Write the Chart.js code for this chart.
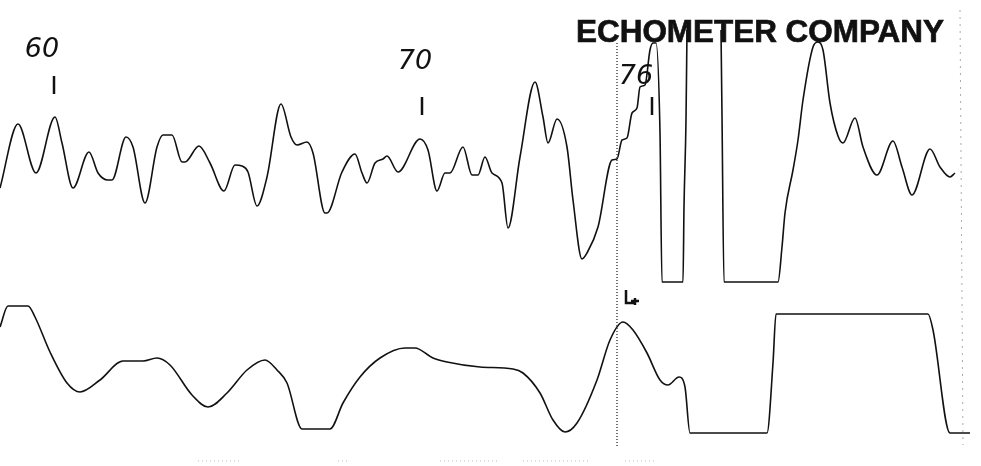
<!DOCTYPE html>
<html>
<head>
<meta charset="utf-8">
<script src="https://cdn.jsdelivr.net/npm/chart.js@4/dist/chart.umd.min.js"></script>
<style>
  body { margin: 0; background: #fff; }
  canvas { display: block; }
</style>
</head>
<body>
<canvas id="echoChart" width="981" height="466"></canvas>
<script>
// upper trace (acoustic echo), sample position vs deflection
const topX = [0, 18, 36, 55, 62, 73, 89, 98, 108, 112, 126, 133, 145, 157, 163, 172, 182, 185, 199, 210, 224, 235, 242, 248, 257, 267, 281, 291, 297, 307, 313, 325,
  327, 342, 355, 362, 367, 375, 383, 387, 398, 420, 428, 437, 445, 450, 463, 472, 478, 485, 492, 502, 508, 520, 535, 543, 548, 557, 567, 573, 582, 587, 598,
  612, 617, 622, 627, 632, 637, 640, 645, 650, 653, 656, 660, 662, 683, 684, 686, 687, 704, 721, 722, 724, 778, 782, 785, 793, 798, 803, 813, 818, 823, 830, 838, 843,
  855, 863, 877, 893, 902, 912, 930, 940, 950, 955];
const topY = [188, 124, 173, 117, 143, 188, 152, 173, 180, 180, 137, 147, 203, 147, 135, 135, 162, 162, 146, 163, 191, 165, 166, 172, 206, 177, 104, 137, 145, 142, 153, 213,
  213, 172, 154, 173, 183, 163, 159, 156, 172, 139, 150, 191, 173, 173, 147, 175, 175, 157, 173, 183, 228, 157, 82, 117, 143, 119, 147, 200, 259, 253, 227,
  160, 159, 140, 138, 113, 108, 87, 85, 50, 43, 43, 133, 282, 282, 207, 120, 30, null, 30, 115, 282, 282, 247, 213, 170, 140, 100, 47, 42, 50, 103, 136, 143,
  118, 147, 175, 141, 167, 195, 149, 167, 177, 173];

// lower trace (filtered signal)
const lowX = [0, 8, 28, 35, 50, 67, 80, 100, 123, 143, 157, 170, 192, 208, 227, 247, 265, 277, 287, 302, 330, 343, 360, 380, 405, 415, 433, 447, 480,
  513, 523, 540, 553, 565, 577, 597, 610, 623, 633, 647, 660, 668, 679, 685, 690, 767, 773, 776, 928, 933, 950, 970];
const lowY = [327, 306, 306, 317, 352, 383, 392, 380, 361, 361, 358, 365, 395, 407, 393, 370, 360, 370, 383, 429, 429, 403, 377, 358, 348, 348, 358, 362, 367,
  369, 373, 393, 420, 432, 423, 380, 340, 322, 330, 353, 380, 385, 377, 387, 433, 433, 363, 314, 314, 330, 433, 433];

// handwritten depth marks: label, x position, label row, tick x, tick top row
const markLabels = ['60', '70', '76'];
const markX = [42, 415, 636];
const markLabelY = [57, 69, 84];
const markTickX = [54, 422, 652];
const markTickY = [76, 97, 97];

const cursorX = 617;
// scan specks along the bottom edge: [from, to]
const specks = [[198, 240], [338, 350], [440, 500], [523, 590], [625, 655]];

const toPts = (xs, ys) => xs.map((x, i) => ({ x: x, y: ys[i] }));

const overlay = {
  id: 'overlay',
  afterDatasetsDraw(chart) {
    const ctx = chart.ctx, sx = chart.scales.x, sy = chart.scales.y;
    const px = v => sx.getPixelForValue(v), py = v => sy.getPixelForValue(v);
    ctx.save();
    // cursor (dotted)
    ctx.strokeStyle = '#444';
    ctx.lineWidth = 1.5;
    ctx.setLineDash([1, 2]);
    ctx.beginPath();
    ctx.moveTo(px(cursorX), py(43));
    ctx.lineTo(px(cursorX), py(448));
    ctx.stroke();
    // faint right border
    ctx.strokeStyle = '#aaa';
    ctx.lineWidth = 1;
    ctx.setLineDash([2, 5]);
    ctx.beginPath();
    ctx.moveTo(px(960), py(10));
    ctx.lineTo(px(963), py(445));
    ctx.stroke();
    // specks
    ctx.strokeStyle = '#bbb';
    ctx.setLineDash([1, 3]);
    specks.forEach(s => {
      ctx.beginPath();
      ctx.moveTo(px(s[0]), py(461));
      ctx.lineTo(px(s[1]), py(461));
      ctx.stroke();
    });
    ctx.setLineDash([]);

    // hand marks
    ctx.fillStyle = '#111';
    ctx.strokeStyle = '#111';
    ctx.textAlign = 'center';
    ctx.font = 'italic 27px "DejaVu Sans"';
    markLabels.forEach((t, i) => {
      ctx.fillText(t, px(markX[i]), py(markLabelY[i]));
      ctx.lineWidth = 2.5;
      ctx.beginPath();
      ctx.moveTo(px(markTickX[i]), py(markTickY[i]));
      ctx.lineTo(px(markTickX[i]), py(markTickY[i] + 18));
      ctx.stroke();
    });

    // title
    ctx.textAlign = 'left';
    ctx.font = 'bold 32px "Liberation Sans"';
    ctx.lineWidth = 0.7;
    ctx.fillText('ECHOMETER COMPANY', px(576), py(42), 368);
    ctx.strokeText('ECHOMETER COMPANY', px(576), py(42), 368);

    // L+ marker
    ctx.lineWidth = 2.5;
    ctx.beginPath();
    ctx.moveTo(px(626), py(290));
    ctx.lineTo(px(626), py(303));
    ctx.lineTo(px(634), py(303));
    ctx.moveTo(px(631), py(301));
    ctx.lineTo(px(639), py(301));
    ctx.moveTo(px(635), py(298));
    ctx.lineTo(px(635), py(305));
    ctx.stroke();
    ctx.restore();
  }
};

new Chart(document.getElementById('echoChart'), {
  type: 'line',
  data: {
    datasets: [
      { label: 'echo', data: toPts(topX, topY) },
      { label: 'filtered', data: toPts(lowX, lowY) }
    ]
  },
  options: {
    responsive: false,
    animation: false,
    spanGaps: false,
    layout: { padding: 0 },
    elements: {
      line: { borderColor: '#111', borderWidth: 1.6, cubicInterpolationMode: 'monotone', fill: false },
      point: { radius: 0 }
    },
    plugins: { legend: { display: false }, tooltip: { enabled: false } },
    scales: {
      x: { type: 'linear', min: 0, max: 981, display: false },
      y: { type: 'linear', min: 0, max: 466, reverse: true, display: false }
    }
  },
  plugins: [overlay]
});
</script>
</body>
</html>
